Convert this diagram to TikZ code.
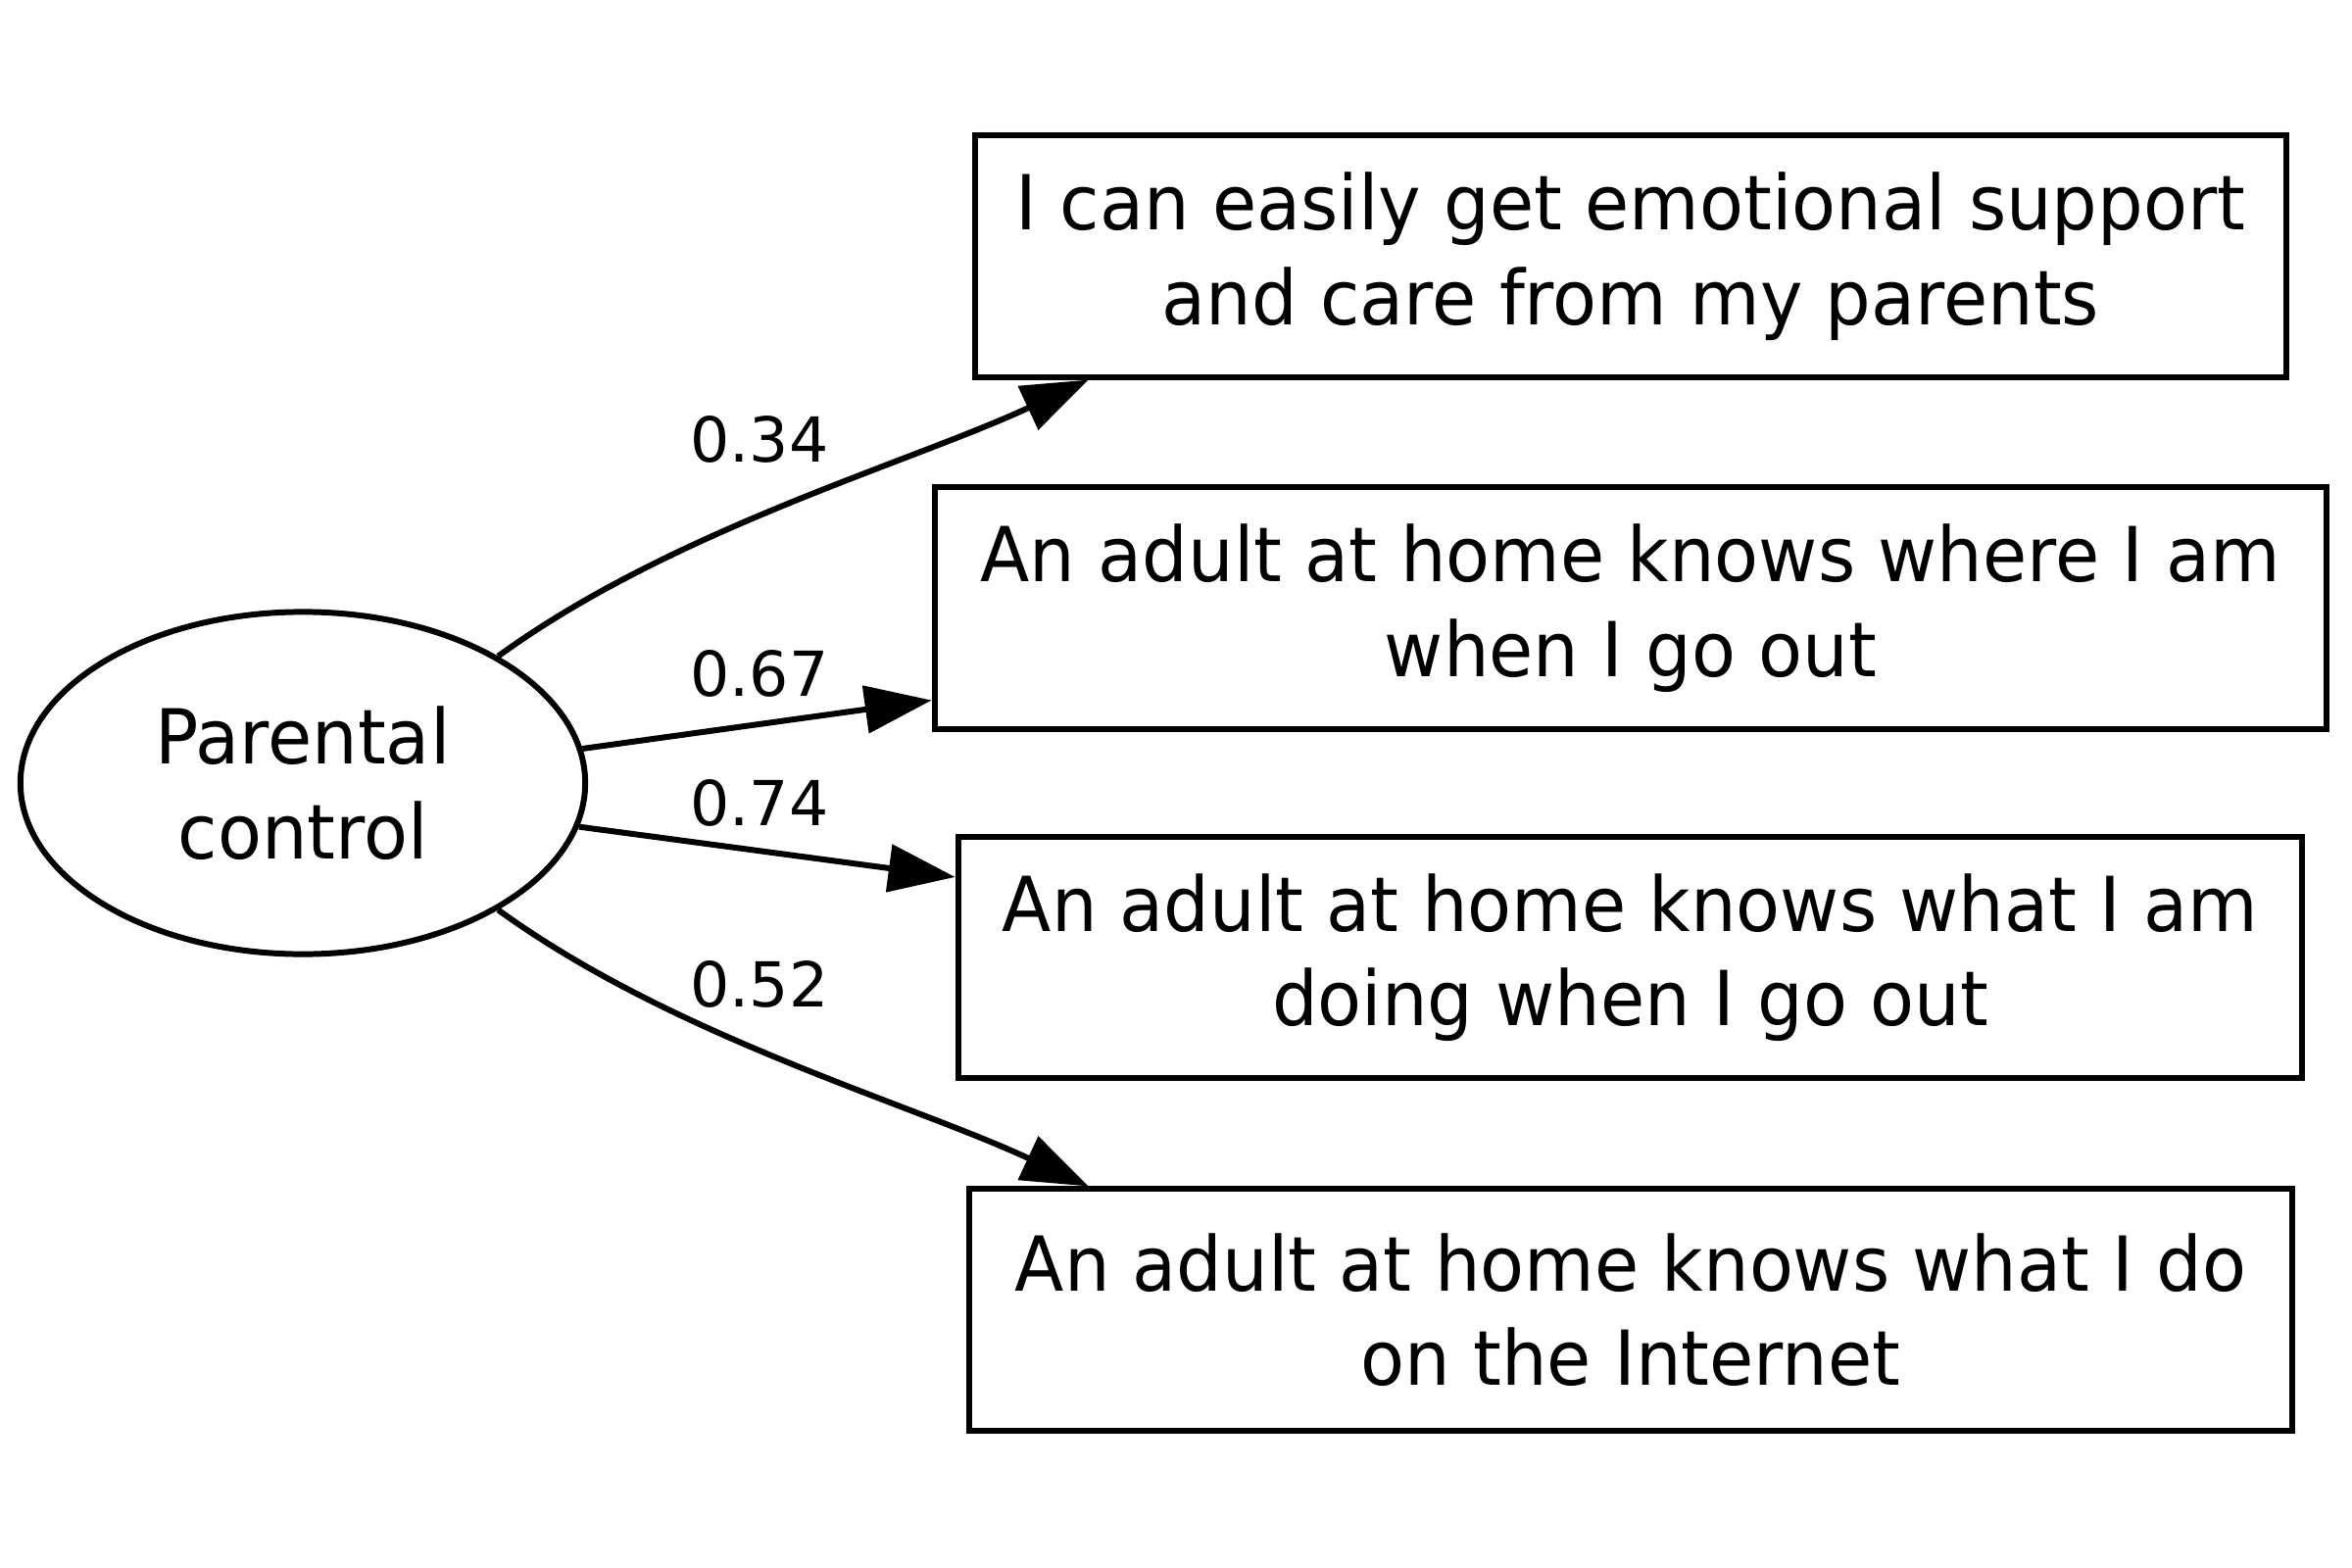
\documentclass[tikz,border=0pt]{standalone}
\usepackage{fontspec}
\setmainfont{DejaVu Sans}
\newfontfamily\narrowfont{DejaVu Sans}[FakeStretch=0.95]
\usetikzlibrary{arrows.meta,shapes.geometric,calc}
\tikzstyle{item} = [rectangle, draw, line width=1.7pt, align=center, inner sep=0pt, minimum height=2.46cm, font=\narrowfont\fontsize{22}{27.5}\selectfont]
\tikzstyle{factor} = [ellipse, draw, line width=1.7pt, align=center, inner sep=0pt, minimum width=5.76cm, minimum height=3.49cm, font=\narrowfont\fontsize{22}{27.5}\selectfont]
\tikzstyle{arrow} = [line width=1.7pt, -{Triangle[length=0.68cm, width=0.48cm]}]
\tikzstyle{loading} = [font=\fontsize{18}{20}\selectfont]

\begin{document}
\begin{tikzpicture}[x = 0.01cm, y = -0.01cm]

% ----------------------------------------------------

\useasboundingbox (0,0) rectangle (2400,1600);

% ----------------------------------------------------

  \node (ctrl) [factor] at (309, 799) {Parental\\control};

  \node (support) [item, minimum width=13.38cm] at (1664, 261.5) {
    I can easily get emotional support\\
    and care from my parents
  };
  \node (where) [item, minimum width=14.20cm] at (1664, 620.5) {
    An adult at home knows where I am\\
    when I go out
  };
  \node (doing) [item, minimum width=13.71cm] at (1663.5, 977) {
    An adult at home knows what I am\\
    doing when I go out
  };
  \node (internet) [item, minimum width=13.50cm] at (1664, 1336.5) {
    An adult at home knows what I do\\
    on the Internet
  };

  \draw[arrow] (ctrl.33) .. controls +(-36:220) and +(155:200) .. ($(support.south west)+(119,0)$);
  \draw[arrow] (ctrl.7) -- ($(where.south west)+(0,-32)$);
  \draw[arrow] (ctrl.-9) -- ($(doing.north west)+(0,44)$);
  \draw[arrow] (ctrl.-33) .. controls +(36:220) and +(205:200) .. ($(internet.north west)+(125,0)$);

  \node (l34) [loading] at (775, 448) {0.34};
  \node (l67) [loading] at (775, 687) {0.67};
  \node (l74) [loading] at (775, 819) {0.74};
  \node (l52) [loading] at (775, 1004) {0.52};

\end{tikzpicture}
\end{document}
